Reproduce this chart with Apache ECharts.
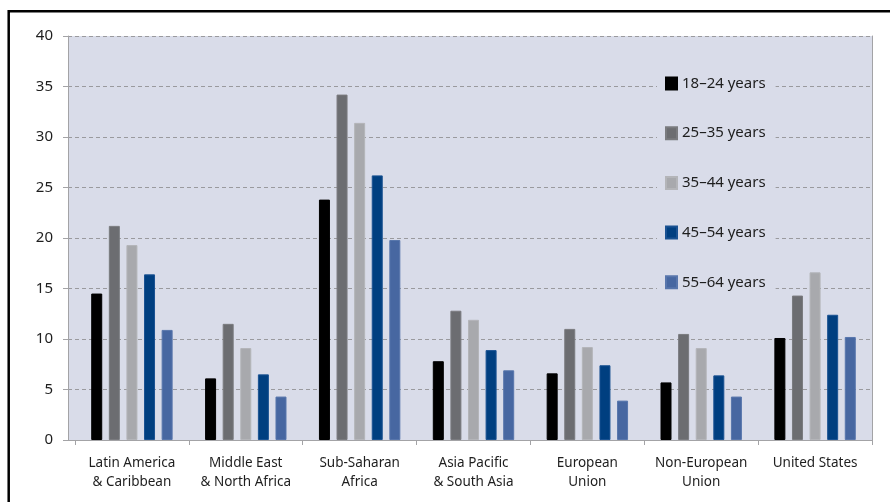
<!DOCTYPE html>
<html>
<head>
<meta charset="utf-8">
<script src="https://cdn.jsdelivr.net/npm/echarts@6/dist/echarts.min.js"></script>
<style>
  html, body { margin: 0; padding: 0; background: #ffffff; }
  #chart { width: 890px; height: 502px; }
</style>
</head>
<body>
<div id="chart"></div>
<script>
// Regions along the category axis
const regions = [
  'Latin America\n& Caribbean',
  'Middle East\n& North Africa',
  'Sub-Saharan\nAfrica',
  'Asia Pacific\n& South Asia',
  'European\nUnion',
  'Non-European\nUnion',
  'United States'
];

// Age bands (series names)
const ageBands = ['18–24 years', '25–35 years', '35–44 years', '45–54 years', '55–64 years'];

// Values per age band, one per region
const age18to24 = [14.5, 6.1, 23.8, 7.8, 6.6, 5.7, 10.1];
const age25to35 = [21.2, 11.5, 34.2, 12.8, 11.0, 10.5, 14.3];
const age35to44 = [19.3, 9.1, 31.4, 11.9, 9.2, 9.1, 16.6];
const age45to54 = [16.4, 6.5, 26.2, 8.9, 7.4, 6.4, 12.4];
const age55to64 = [10.9, 4.3, 19.8, 6.9, 3.9, 4.3, 10.2];

// Value axis ticks
const yMin = 0, yMax = 40, yStep = 5;

const bandValues = [age18to24, age25to35, age35to44, age45to54, age55to64];
const bandColors = ['#000000', '#6c6d71', '#a8a9ad', '#003f80', '#4767a1'];
const bandBorders = ['#000000', '#7a7b7f', '#b4b5b9', '#1a5292', '#5876ac'];

const textColor = '#1e1e1e';
const axisGray = '#a3a3a6';
const font = '"Noto Sans", "Liberation Sans", sans-serif';

const chart = echarts.init(document.getElementById('chart'), null, { renderer: 'canvas' });

const series = ageBands.map((name, i) => ({
  name: name,
  type: 'bar',
  xAxisIndex: 1,
  yAxisIndex: 2,
  barWidth: 11,
  barGap: '60%',
  data: bandValues[i],
  itemStyle: { color: bandColors[i], borderColor: bandBorders[i], borderWidth: 1 },
  emphasis: { disabled: true },
  z: 3
}));

const option = {
  animation: false,
  backgroundColor: '#ffffff',
  textStyle: { fontFamily: font },
  grid: [
    // frame: background, gridlines, value axis
    { left: 68, right: 18, top: 36, bottom: 62, show: true, backgroundColor: '#d9dce9', borderWidth: 0 },
    // bars
    { left: 75, right: 18, top: 36, bottom: 62 }
  ],
  xAxis: [
    {
      gridIndex: 0, type: 'category', data: [''],
      axisLine: { show: true, lineStyle: { color: axisGray, width: 1 } },
      axisTick: { show: false }, axisLabel: { show: false }, splitLine: { show: false }
    },
    {
      gridIndex: 1, type: 'category', data: regions,
      axisLine: { show: true, lineStyle: { color: axisGray, width: 1 } },
      axisTick: { show: true, alignWithLabel: false, length: 5, lineStyle: { color: axisGray } },
      axisLabel: {
        interval: 0, margin: 14, color: textColor, fontFamily: font,
        fontSize: 13.5, lineHeight: 18.5, align: 'center'
      },
      splitLine: { show: false }
    }
  ],
  yAxis: [
    {
      gridIndex: 0, type: 'value', min: yMin, max: yMax, interval: yStep, position: 'left',
      axisLine: { show: true, lineStyle: { color: axisGray, width: 1 } },
      axisTick: { show: true, length: 5, lineStyle: { color: axisGray } },
      axisLabel: { margin: 15, color: textColor, fontFamily: font, fontSize: 15 },
      splitLine: { show: true, lineStyle: { color: '#9a9a9e', type: [4, 3], width: 1 } }
    },
    {
      gridIndex: 0, type: 'value', min: yMin, max: yMax, interval: yStep, position: 'right',
      axisLine: { show: true, lineStyle: { color: axisGray, width: 1 } },
      axisTick: { show: false }, axisLabel: { show: false }, splitLine: { show: false }
    },
    {
      gridIndex: 1, type: 'value', min: yMin, max: yMax, interval: yStep,
      axisLine: { show: false }, axisTick: { show: false }, axisLabel: { show: false },
      splitLine: { show: false }
    }
  ],
  legend: {
    orient: 'vertical',
    left: 657,
    top: 70,
    padding: [6, 10, 6, 8],
    backgroundColor: '#d9dce9',
    itemWidth: 11,
    itemHeight: 12,
    itemGap: 34.7,
    icon: 'rect',
    selectedMode: false,
    data: ageBands,
    textStyle: { color: textColor, fontFamily: font, fontSize: 15, lineHeight: 14 },
    z: 10
  },
  graphic: [
    {
      type: 'rect',
      shape: { x: 8.7, y: 11.2, width: 1000, height: 1000 },
      style: { fill: 'none', stroke: '#000000', lineWidth: 2.5 },
      silent: true,
      z: 100
    }
  ],
  series: series
};

chart.setOption(option);
</script>
</body>
</html>
